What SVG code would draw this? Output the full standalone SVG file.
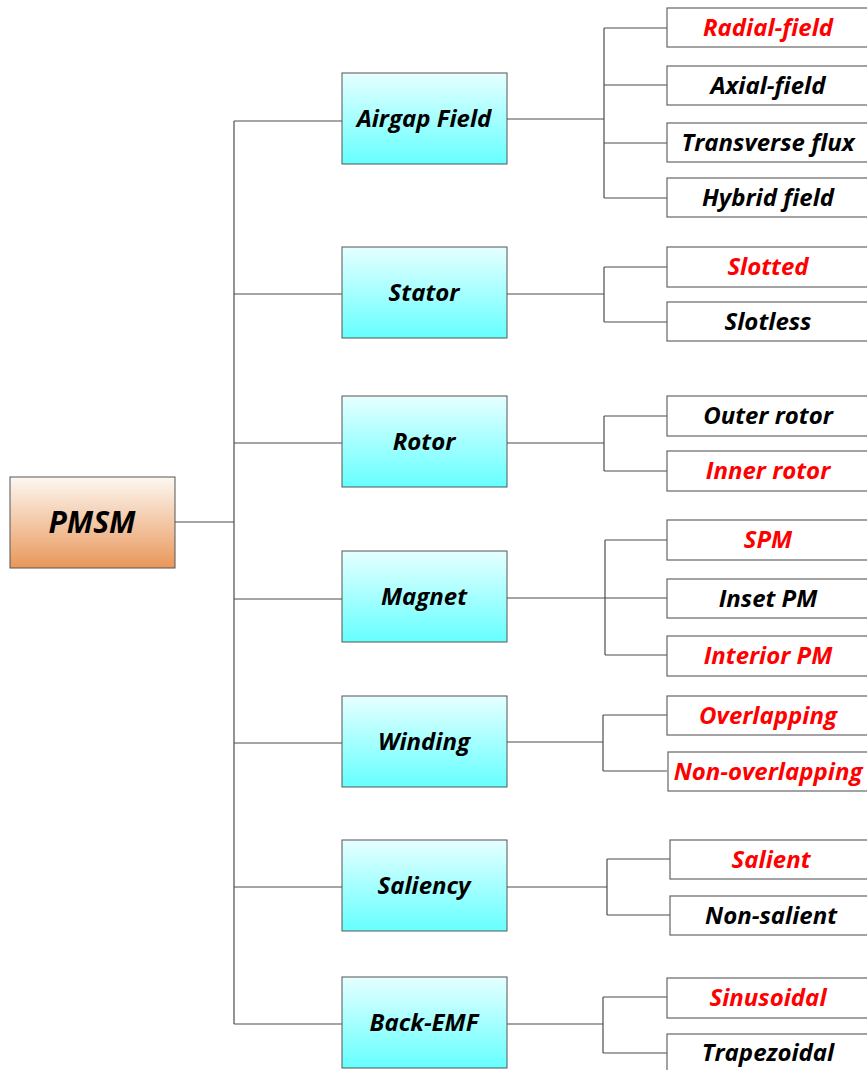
<svg xmlns="http://www.w3.org/2000/svg" width="867" height="1070" viewBox="0 0 867 1070">
  <defs>
    <linearGradient id="gOrange" x1="0" y1="0" x2="0" y2="1">
      <stop offset="0" stop-color="#fdf8f2"/>
      <stop offset="1" stop-color="#e9975a"/>
    </linearGradient>
    <linearGradient id="gCyan" x1="0" y1="0" x2="0" y2="1">
      <stop offset="0" stop-color="#e6ffff"/>
      <stop offset="1" stop-color="#66ffff"/>
    </linearGradient>
  </defs>
  <style>
    .root { fill: url(#gOrange); stroke: #555; stroke-width: 1; }
    .mid { fill: url(#gCyan); stroke: #555; stroke-width: 1; }
    .leaf { fill: #fff; stroke: #666; stroke-width: 1.2; }
    text { font-family: "Open Sans", Lato, "Liberation Sans", sans-serif; font-style: italic; font-weight: bold; text-anchor: middle; dominant-baseline: central; }
    .t-root { font-size: 30px; fill: #000; }
    .t-mid { font-size: 24px; fill: #000; }
    .t-leaf { font-size: 24px; fill: #000; }
    .red { fill: #ff0000; }
    .conn { fill: none; stroke: #4d4d4d; stroke-width: 1.2; }
  </style>

  <!-- connectors -->
  <g id="connectors" class="conn">
    <path d="M175,522 H234 M234,121 V1024"/>
    <path d="M234,121 H342 M234,294 H342 M234,443 H342 M234,599 H342 M234,743 H342 M234,887 H342 M234,1024 H342"/>
    <!-- Airgap Field -->
    <path d="M507,119 H604 M604,28 V198 M604,28 H667 M604,85 H667 M604,143 H667 M604,198 H667"/>
    <!-- Stator -->
    <path d="M507,294 H604 M604,267 V322 M604,267 H667 M604,322 H667"/>
    <!-- Rotor -->
    <path d="M507,443 H604 M604,416 V471 M604,416 H667 M604,471 H667"/>
    <!-- Magnet -->
    <path d="M507,598 H667 M605,540 V655 M605,540 H667 M605,655 H667"/>
    <!-- Winding -->
    <path d="M507,742 H603 M603,715 V771 M603,715 H667 M603,771 H667"/>
    <!-- Saliency -->
    <path d="M507,887 H607 M607,859 V915 M607,859 H670 M607,915 H670"/>
    <!-- Back-EMF -->
    <path d="M507,1024 H603 M603,997 V1053 M603,997 H667 M603,1053 H667"/>
  </g>

  <g id="pmsm">
    <rect class="root" x="10" y="477" width="165" height="91"/>
    <text class="t-root" x="92" y="521">PMSM</text>
  </g>

  <g id="airgap">
    <rect class="mid" x="342" y="73" width="165" height="91"/>
    <text class="t-mid" x="424" y="117">Airgap Field</text>
  </g>
  <g id="stator">
    <rect class="mid" x="342" y="247" width="165" height="91"/>
    <text class="t-mid" x="424" y="291">Stator</text>
  </g>
  <g id="rotor">
    <rect class="mid" x="342" y="396" width="165" height="91"/>
    <text class="t-mid" x="424" y="440">Rotor</text>
  </g>
  <g id="magnet">
    <rect class="mid" x="342" y="551" width="165" height="91"/>
    <text class="t-mid" x="424" y="595">Magnet</text>
  </g>
  <g id="winding">
    <rect class="mid" x="342" y="696" width="165" height="91"/>
    <text class="t-mid" x="424" y="740">Winding</text>
  </g>
  <g id="saliency">
    <rect class="mid" x="342" y="840" width="165" height="91"/>
    <text class="t-mid" x="424" y="884">Saliency</text>
  </g>
  <g id="backemf">
    <rect class="mid" x="342" y="977" width="165" height="91"/>
    <text class="t-mid" x="424" y="1021">Back-EMF</text>
  </g>

  <!-- leaves -->
  <g id="radial"><rect class="leaf" x="667" y="8" width="210" height="39"/><text class="t-leaf red" x="768" y="26">Radial-field</text></g>
  <g id="axial"><rect class="leaf" x="667" y="66" width="210" height="39"/><text class="t-leaf" x="768" y="84">Axial-field</text></g>
  <g id="transverse"><rect class="leaf" x="667" y="123" width="210" height="39"/><text class="t-leaf" x="768" y="141">Transverse flux</text></g>
  <g id="hybrid"><rect class="leaf" x="667" y="178" width="210" height="39"/><text class="t-leaf" x="768" y="196">Hybrid field</text></g>

  <g id="slotted"><rect class="leaf" x="667" y="247" width="210" height="40"/><text class="t-leaf red" x="768" y="265">Slotted</text></g>
  <g id="slotless"><rect class="leaf" x="667" y="302" width="210" height="39"/><text class="t-leaf" x="768" y="320">Slotless</text></g>

  <g id="outer"><rect class="leaf" x="667" y="396" width="210" height="40"/><text class="t-leaf" x="768" y="414">Outer rotor</text></g>
  <g id="inner"><rect class="leaf" x="667" y="451" width="210" height="40"/><text class="t-leaf red" x="768" y="469">Inner rotor</text></g>

  <g id="spm"><rect class="leaf" x="667" y="520" width="210" height="40"/><text class="t-leaf red" x="768" y="538">SPM</text></g>
  <g id="inset"><rect class="leaf" x="667" y="579" width="210" height="39"/><text class="t-leaf" x="768" y="597">Inset PM</text></g>
  <g id="interior"><rect class="leaf" x="667" y="636" width="210" height="40"/><text class="t-leaf red" x="768" y="654">Interior PM</text></g>

  <g id="overlapping"><rect class="leaf" x="667" y="696" width="210" height="39"/><text class="t-leaf red" x="768" y="714">Overlapping</text></g>
  <g id="nonoverlapping"><rect class="leaf" x="668" y="752" width="210" height="39"/><text class="t-leaf red" x="768" y="770">Non-overlapping</text></g>

  <g id="salient"><rect class="leaf" x="670" y="840" width="210" height="39"/><text class="t-leaf red" x="771" y="858">Salient</text></g>
  <g id="nonsalient"><rect class="leaf" x="670" y="896" width="210" height="39"/><text class="t-leaf" x="771" y="914">Non-salient</text></g>

  <g id="sinusoidal"><rect class="leaf" x="667" y="978" width="210" height="40"/><text class="t-leaf red" x="768" y="996">Sinusoidal</text></g>
  <g id="trapezoidal"><rect class="leaf" x="667" y="1034" width="210" height="40"/><text class="t-leaf" x="768" y="1051">Trapezoidal</text></g>
</svg>
